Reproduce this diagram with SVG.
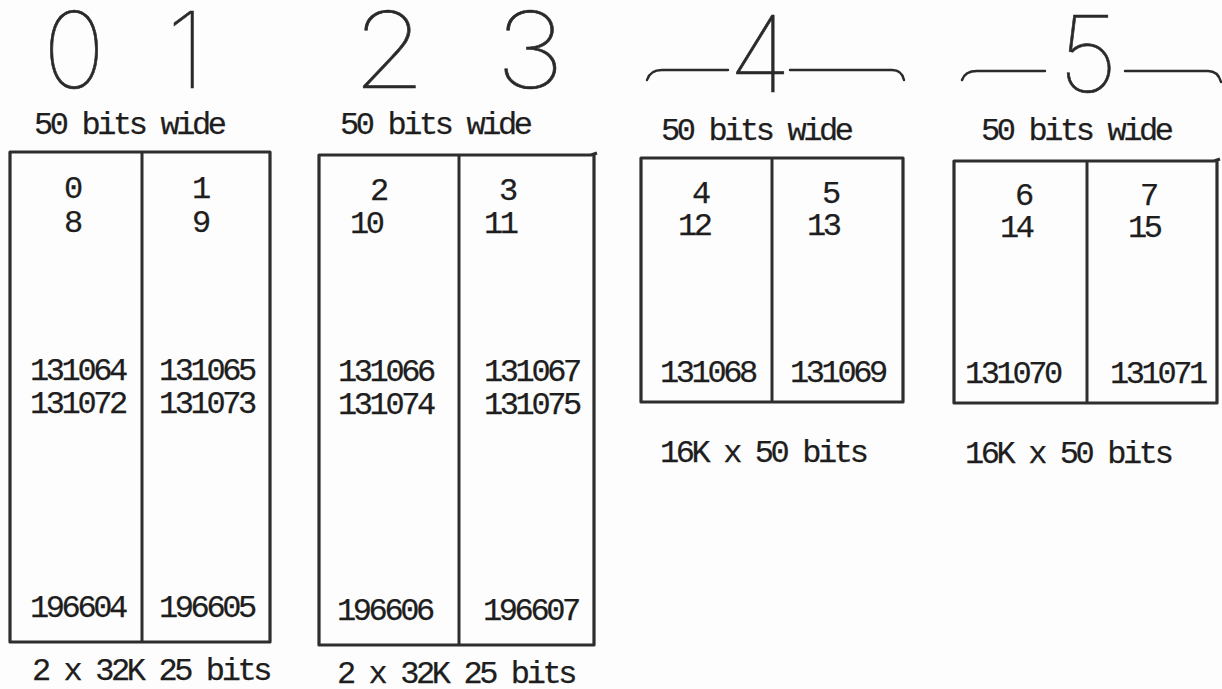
<svg xmlns="http://www.w3.org/2000/svg" width="1222" height="689" viewBox="0 0 1222 689">
<style>
.bg{fill:#fdfdfd}
.box{fill:none;stroke:#2e2e2e;stroke-width:3.2;stroke-linejoin:round}
.div{stroke:#2e2e2e;stroke-width:3}
.t{font-family:"Liberation Mono",monospace;font-size:32px;letter-spacing:-3.4px;fill:#1e1e1e;stroke:#1e1e1e;stroke-width:0.25}
.big{font-family:Inter,Roboto,"Liberation Sans",sans-serif;font-weight:100;font-size:106px;fill:#2a2a2a;stroke:#2a2a2a;stroke-width:0.6;text-anchor:middle}
.br{fill:none;stroke:#2a2a2a;stroke-width:2.4;stroke-linecap:round}
</style>
<rect class="bg" x="0" y="0" width="1222" height="689"/>
<g id="header-0-1">
<text class="big" x="74" y="88">0</text>
<text class="big" x="186" y="88">1</text>
<text class="t" x="34" y="134">50 bits wide</text>
</g>
<g id="header-2-3">
<text class="big" x="389" y="88" transform="translate(389 0) scale(1.12 1) translate(-389 0)">2</text>
<text class="big" x="530" y="88" transform="translate(530 0) scale(1.12 1) translate(-530 0)">3</text>
<text class="t" x="340" y="134">50 bits wide</text>
</g>
<g id="header-4">
<path class="br" d="M647,80 Q650,70 662,70 L728,70"/>
<text class="big" x="760" y="92">4</text>
<path class="br" d="M790,70 L892,70 Q902,70 904,80"/>
<text class="t" x="661" y="140">50 bits wide</text>
</g>
<g id="header-5">
<path class="br" d="M962,80 Q965,71 977,71 L1045,71"/>
<text class="big" x="1088" y="92">5</text>
<path class="br" d="M1125,71 L1208,71 Q1218,71 1221,82"/>
<text class="t" x="981" y="140">50 bits wide</text>
</g>
<g id="bank-0-1">
<rect class="box" x="10" y="152" width="260" height="490"/>
<line class="div" x1="142" y1="152" x2="142" y2="642"/>
<text class="t" x="64" y="198">0</text>
<text class="t" x="64" y="232">8</text>
<text class="t" x="192" y="198">1</text>
<text class="t" x="192" y="232">9</text>
<text class="t" x="30" y="380">131064</text>
<text class="t" x="30" y="413">131072</text>
<text class="t" x="159" y="380">131065</text>
<text class="t" x="159" y="413">131073</text>
<text class="t" x="30" y="617">196604</text>
<text class="t" x="159" y="617">196605</text>
<text class="t" x="32" y="680">2 x 32K 25 bits</text>
</g>
<g id="bank-2-3">
<path class="box" d="M597,153 L591,155 L319,155 L319,645 L594,645 L594,155"/>
<line class="div" x1="459" y1="155" x2="459" y2="645"/>
<text class="t" x="370" y="200">2</text>
<text class="t" x="350" y="233">10</text>
<text class="t" x="499" y="200">3</text>
<text class="t" x="484" y="233">11</text>
<text class="t" x="338" y="381">131066</text>
<text class="t" x="338" y="414">131074</text>
<text class="t" x="484" y="381">131067</text>
<text class="t" x="484" y="414">131075</text>
<text class="t" x="337" y="620">196606</text>
<text class="t" x="483" y="620">196607</text>
<text class="t" x="337" y="683">2 x 32K 25 bits</text>
</g>
<g id="bank-4-5">
<rect class="box" x="641" y="158" width="262" height="244"/>
<line class="div" x1="772" y1="158" x2="772" y2="402"/>
<text class="t" x="692" y="203">4</text>
<text class="t" x="678" y="235">12</text>
<text class="t" x="822" y="203">5</text>
<text class="t" x="807" y="235">13</text>
<text class="t" x="660" y="382">131068</text>
<text class="t" x="790" y="382">131069</text>
<text class="t" x="660" y="462">16K x 50 bits</text>
</g>
<g id="bank-6-7">
<path class="box" d="M1220,159 L1214,161 L954,161 L954,403 L1217,403 L1217,161"/>
<line class="div" x1="1087" y1="161" x2="1087" y2="403"/>
<text class="t" x="1015" y="205">6</text>
<text class="t" x="1000" y="237">14</text>
<text class="t" x="1140" y="205">7</text>
<text class="t" x="1128" y="237">15</text>
<text class="t" x="965" y="383">131070</text>
<text class="t" x="1110" y="383">131071</text>
<text class="t" x="965" y="463">16K x 50 bits</text>
</g>
<g id="connectors"/>
</svg>
